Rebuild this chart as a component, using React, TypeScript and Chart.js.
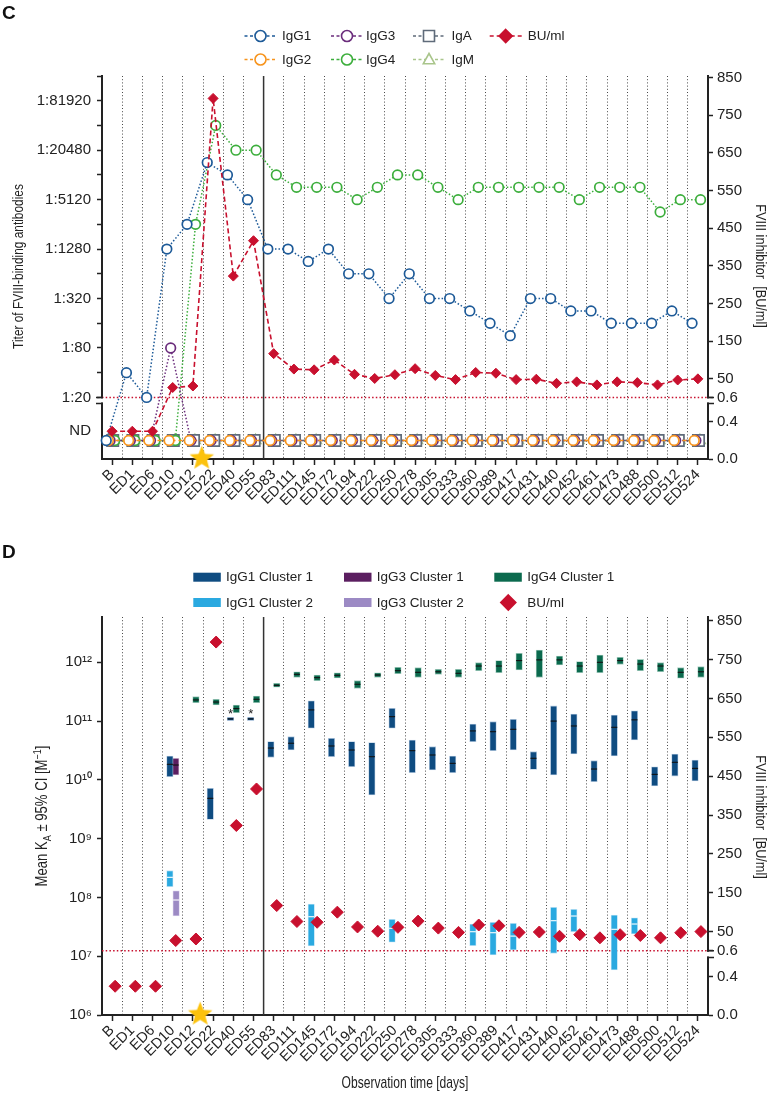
import React, { useEffect, useRef } from 'react';
import { Chart, registerables, Scale } from 'chart.js';

Chart.register(...registerables);

const SANS = '"Liberation Sans", Arial, Helvetica, sans-serif';
const NARROW_SCALE = 0.82; // horizontal compression emulating a condensed face
Chart.defaults.font.family = SANS;
Chart.defaults.color = '#222';

/* ======================= DATA ======================= */
const CATEGORIES = ['B', 'ED1', 'ED6', 'ED10', 'ED12', 'ED22', 'ED40', 'ED55', 'ED83', 'ED111', 'ED145', 'ED172', 'ED194', 'ED222', 'ED250', 'ED278', 'ED305', 'ED333', 'ED360', 'ED389', 'ED417', 'ED431', 'ED440', 'ED452', 'ED461', 'ED473', 'ED488', 'ED500', 'ED512', 'ED524'];

const ND = 'ND';

// Panel C: reciprocal titers of FVIII-binding antibodies ('ND' = not detected)
const IGG1_TITER = [ND, 40, 20, 1280, 2560, 14480, 10240, 5120, 1280, 1280, 905, 1280, 640, 640, 320, 640, 320, 320, 226, 160, 113, 320, 320, 226, 226, 160, 160, 160, 226, 160];
const IGG2_TITER = [ND, ND, ND, ND, ND, ND, ND, ND, ND, ND, ND, ND, ND, ND, ND, ND, ND, ND, ND, ND, ND, ND, ND, ND, ND, ND, ND, ND, ND, ND];
const IGG3_TITER = [ND, ND, ND, 80, ND, ND, ND, ND, ND, ND, ND, ND, ND, ND, ND, ND, ND, ND, ND, ND, ND, ND, ND, ND, ND, ND, ND, ND, ND, ND];
const IGG4_TITER = [ND, ND, ND, ND, 2560, 40960, 20480, 20480, 10240, 7240, 7240, 7240, 5120, 7240, 10240, 10240, 7240, 5120, 7240, 7240, 7240, 7240, 7240, 5120, 7240, 7240, 7240, 3620, 5120, 5120];
const IGA_TITER = [ND, ND, ND, ND, ND, ND, ND, ND, ND, ND, ND, ND, ND, ND, ND, ND, ND, ND, ND, ND, ND, ND, ND, ND, ND, ND, ND, ND, ND, ND];
const IGM_TITER = [ND, ND, ND, ND, ND, ND, ND, ND, ND, ND, ND, ND, ND, ND, ND, ND, ND, ND, ND, ND, ND, ND, ND, ND, ND, ND, ND, ND, ND, ND];

// FVIII inhibitor (BU/ml), shared by both panels
const BU_PER_ML = [0.3, 0.3, 0.3, 27, 31, 795, 323, 417, 117, 76, 74, 100, 62, 51, 61, 77, 59, 48, 67, 65, 48, 49, 38, 42, 34, 42, 40, 34, 47, 50];

// Panel D: mean K_A with 95% CI, as [low, high, mean]
const IGG1_CLUSTER1 = [
  null, null, null,
  [1.13e10, 2.55e10, 1.84e10],
  null,
  [2.13e9, 7.2e9, 4.86e9],
  [1.02e11, 1.16e11, 1.09e11],
  [1.02e11, 1.16e11, 1.09e11],
  [2.42e10, 4.47e10, 3.48e10],
  [3.22e10, 5.43e10, 4.2e10],
  [7.55e10, 2.22e11, 1.55e11],
  [2.48e10, 5.1e10, 3.77e10],
  [1.67e10, 4.47e10, 3.22e10],
  [5.53e9, 4.3e10, 2.48e10],
  [7.55e10, 1.65e11, 1.19e11],
  [1.32e10, 4.77e10, 3.14e10],
  [1.47e10, 3.67e10, 2.65e10],
  [1.32e10, 2.55e10, 1.91e10],
  [4.47e10, 8.93e10, 6.8e10],
  [3.14e10, 9.78e10, 6.6e10],
  [3.22e10, 1.07e11, 7.25e10],
  [1.51e10, 3.02e10, 2.33e10],
  [1.21e10, 1.81e11, 1.0e11],
  [2.76e10, 1.32e11, 8.26e10],
  [9.3e9, 2.12e10, 1.53e10],
  [2.55e10, 1.27e11, 7.84e10],
  [4.77e10, 1.5e11, 1.05e11],
  [7.87e9, 1.67e10, 1.24e10],
  [1.16e10, 2.76e10, 1.99e10],
  [9.57e9, 2.18e10, 1.57e10],
];
const IGG1_CLUSTER2 = [
  null, null, null,
  [1.52e8, 2.85e8, 2.2e8],
  null, null, null, null, null, null,
  [1.49e7, 7.7e7, 4.7e7],
  null, null, null,
  [1.73e7, 4.25e7, 2.99e7],
  null, null, null,
  [1.51e7, 3.53e7, 2.61e7],
  [1.05e7, 3.78e7, 2.51e7],
  [1.28e7, 3.63e7, 2.2e7],
  null,
  [1.12e7, 6.79e7, 4.02e7],
  [2.61e7, 6.28e7, 4.83e7],
  null,
  [5.83e6, 5.02e7, 2.87e7],
  [2.39e7, 4.52e7, 3.53e7],
  null, null, null,
];
const IGG3_CLUSTER1 = [null, null, null, [1.21e10, 2.33e10, 1.79e10], null, null, null, null, null, null, null, null, null, null, null, null, null, null, null, null, null, null, null, null, null, null, null, null, null, null];
const IGG3_CLUSTER2 = [null, null, null, [4.83e7, 1.3e8, 9.04e7], null, null, null, null, null, null, null, null, null, null, null, null, null, null, null, null, null, null, null, null, null, null, null, null, null, null];
const IGG4_CLUSTER1 = [
  null, null, null, null,
  [2.06e11, 2.6e11, 2.29e11],
  [1.88e11, 2.35e11, 2.11e11],
  [1.39e11, 1.88e11, 1.63e11],
  [2.06e11, 2.67e11, 2.35e11],
  [3.76e11, 4.4e11, 4.06e11],
  [5.56e11, 6.9e11, 6.25e11],
  [4.87e11, 6.08e11, 5.48e11],
  [5.41e11, 6.65e11, 6.01e11],
  [3.61e11, 4.87e11, 4.23e11],
  [5.56e11, 6.65e11, 6.08e11],
  [6.4e11, 8.2e11, 7.2e11],
  [5.56e11, 8.1e11, 6.76e11],
  [6.25e11, 7.6e11, 6.9e11],
  [5.56e11, 7.6e11, 6.5e11],
  [7.2e11, 9.86e11, 8.65e11],
  [6.65e11, 1.07e12, 8.65e11],
  [7.39e11, 1.42e12, 1.07e12],
  [5.56e11, 1.62e12, 1.1e12],
  [9.0e11, 1.28e12, 1.1e12],
  [6.65e11, 1.03e12, 8.65e11],
  [6.65e11, 1.33e12, 1.0e12],
  [9.25e11, 1.22e12, 1.07e12],
  [7.2e11, 1.12e12, 9.35e11],
  [6.9e11, 9.86e11, 8.65e11],
  [5.35e11, 8.1e11, 6.76e11],
  [5.56e11, 8.43e11, 6.9e11],
];
const ASTERISK_CATEGORIES = ['ED40', 'ED55'];

// Axis ticks
const TITER_TICKS = [20, 40, 80, 160, 320, 640, 1280, 2560, 5120, 10240, 20480, 40960, 81920, 163840];
const TITER_LABELED = [20, 80, 320, 1280, 5120, 20480, 81920];
const BU_TICKS = [0, 0.4, 0.6, 50, 150, 250, 350, 450, 550, 650, 750, 850];
const KA_TICKS = [1e6, 1e7, 1e8, 1e9, 1e10, 1e11, 1e12];
const EVENT_BETWEEN = ['ED12', 'ED22'];
const PHASE_BREAK_AFTER = 'ED55';

/* ======================= STYLES ======================= */
const COL = {
  igg1: '#1d5a98', igg2: '#f7941d', igg3: '#6b2d7c', igg4: '#3cae3c', iga: '#5f6b7a', igm: '#a9c58b', bu: '#c8102e',
  c1: '#0f4c81', c2: '#2aa9e0', g3c1: '#5b1e60', g3c2: '#9c8ac4', g4c1: '#0b6a4e', star: '#fcc20c', axis: '#222',
};
const ND_LEVEL = 0.2;
const ND_LABEL_LEVEL = 0.3;
const STAR_LEVEL = 0.02;

/* ======================= BROKEN AXIS SCALE ======================= */
class BrokenScale extends (Scale as any) {
  static id = 'broken';
  static defaults = {};
  determineDataLimits() {
    const o: any = (this as any).options;
    (this as any).min = o.lowerMin;
    (this as any).max = o.upperMax;
  }
  buildTicks() {
    const o: any = (this as any).options;
    return (o.tickValues || []).map((value: number) => ({ value }));
  }
  getLabelForValue(v: number) {
    return String(v);
  }
  sections() {
    const self: any = this;
    const o = self.options;
    const H = self.bottom - self.top;
    const lowerH = H * o.lowerFrac;
    const gapH = H * o.gapFrac;
    const lowerTop = self.bottom - lowerH;
    const upperBottom = lowerTop - gapH;
    return { H, lowerH, gapH, lowerTop, upperBottom };
  }
  getPixelForValue(value: number) {
    const self: any = this;
    const o = self.options;
    const s = self.sections();
    if (value < o.upperMin) {
      const t = (value - o.lowerMin) / (o.lowerMax - o.lowerMin);
      return self.bottom - t * s.lowerH;
    }
    const t = o.upperLog
      ? Math.log(value / o.upperMin) / Math.log(o.upperMax / o.upperMin)
      : (value - o.upperMin) / (o.upperMax - o.upperMin);
    return s.upperBottom - t * (s.upperBottom - self.top);
  }
  getValueForPixel(p: number) {
    const self: any = this;
    const o = self.options;
    const s = self.sections();
    if (p >= s.lowerTop) return o.lowerMin + ((self.bottom - p) / s.lowerH) * (o.lowerMax - o.lowerMin);
    const t = (s.upperBottom - p) / (s.upperBottom - self.top);
    return o.upperLog ? o.upperMin * Math.pow(o.upperMax / o.upperMin, t) : o.upperMin + t * (o.upperMax - o.upperMin);
  }
}
Chart.register(BrokenScale as any);

/* ======================= DECOR PLUGIN ======================= */
function drawMarker(ctx: any, kind: string, x: number, y: number, color: string, r: number) {
  ctx.save();
  ctx.setLineDash([]);
  ctx.lineWidth = 1.6;
  ctx.strokeStyle = color;
  ctx.fillStyle = '#fff';
  ctx.beginPath();
  if (kind === 'circle') ctx.arc(x, y, r, 0, Math.PI * 2);
  else if (kind === 'rect') ctx.rect(x - r, y - r, 2 * r, 2 * r);
  else if (kind === 'triangle') {
    ctx.moveTo(x, y - r);
    ctx.lineTo(x + r * 0.95, y + r * 0.7);
    ctx.lineTo(x - r * 0.95, y + r * 0.7);
    ctx.closePath();
  } else if (kind === 'diamond') {
    ctx.fillStyle = color;
    ctx.moveTo(x, y - r);
    ctx.lineTo(x + r, y);
    ctx.lineTo(x, y + r);
    ctx.lineTo(x - r, y);
    ctx.closePath();
  }
  ctx.fill();
  ctx.stroke();
  ctx.restore();
}

// Draws (optionally rotated, horizontally condensed) text with sub/superscript segments.
function drawRich(ctx: any, segs: any[], cx: number, cy: number, rot: number, size: number, hs: number, align: string) {
  ctx.save();
  ctx.translate(cx, cy);
  ctx.rotate(rot);
  ctx.scale(hs, 1);
  ctx.textBaseline = 'middle';
  ctx.textAlign = 'left';
  ctx.fillStyle = '#222';
  const fontOf = (s: any) => `${s.sub || s.sup ? Math.round(size * 0.68) : size}px ${SANS}`;
  let total = 0;
  for (const s of segs) {
    ctx.font = fontOf(s);
    total += ctx.measureText(s.t).width;
  }
  let x = align === 'left' ? 0 : -total / 2;
  for (const s of segs) {
    ctx.font = fontOf(s);
    const dy = s.sub ? size * 0.28 : s.sup ? -size * 0.32 : 0;
    ctx.fillText(s.t, x, dy);
    x += ctx.measureText(s.t).width;
  }
  ctx.restore();
}

const decorPlugin = {
  id: 'decor',
  beforeDatasetsDraw(chart: any, _a: any, opts: any) {
    const { ctx, chartArea: a } = chart;
    ctx.save();
    if (opts.threshold) {
      const y = chart.scales[opts.threshold.axis].getPixelForValue(opts.threshold.value);
      ctx.strokeStyle = COL.bu;
      ctx.lineWidth = 1.5;
      ctx.setLineDash([1.5, 2.2]);
      ctx.beginPath();
      ctx.moveTo(a.left, y);
      ctx.lineTo(a.right, y);
      ctx.stroke();
    }
    if (opts.separatorAfter) {
      const xs = chart.scales.x;
      const i = CATEGORIES.indexOf(opts.separatorAfter);
      const x = (xs.getPixelForValue(i) + xs.getPixelForValue(i + 1)) / 2;
      ctx.setLineDash([]);
      ctx.strokeStyle = '#333';
      ctx.lineWidth = 1.5;
      ctx.beginPath();
      ctx.moveTo(x, a.top);
      ctx.lineTo(x, a.bottom);
      ctx.stroke();
    }
    ctx.restore();
  },
  afterDraw(chart: any, _a: any, opts: any) {
    const { ctx } = chart;
    ctx.save();
    // axis breaks
    for (const b of opts.breaks || []) {
      const s = chart.scales[b.axis];
      const sec = s.sections();
      const ax = b.side < 0 ? s.right : s.left;
      ctx.fillStyle = '#fff';
      ctx.fillRect(ax - 2.5, sec.upperBottom + 1, 5, sec.lowerTop - sec.upperBottom - 2);
      ctx.strokeStyle = COL.axis;
      ctx.lineWidth = 1.5;
      ctx.setLineDash([]);
      ctx.beginPath();
      ctx.moveTo(ax + b.side * 6, sec.lowerTop);
      ctx.lineTo(ax - b.side * 1, sec.lowerTop);
      ctx.moveTo(ax + b.side * 6, sec.upperBottom);
      ctx.lineTo(ax - b.side * 1, sec.upperBottom);
      ctx.stroke();
    }
    // asterisks
    if (opts.asterisks) {
      const xs = chart.scales.xd;
      const ys = chart.scales.yL;
      ctx.fillStyle = '#222';
      ctx.font = `13px ${SANS}`;
      ctx.textAlign = 'center';
      ctx.textBaseline = 'middle';
      for (const c of opts.asterisks.categories) {
        const i = CATEGORIES.indexOf(c);
        const v = opts.asterisks.series[i];
        if (!v) continue;
        ctx.fillText('*', xs.getPixelForValue(i + opts.asterisks.offset), ys.getPixelForValue(v[1]) - 3);
      }
    }
    // panel letter
    if (opts.letter) {
      ctx.fillStyle = '#111';
      ctx.font = `bold 19px ${SANS}`;
      ctx.textAlign = 'left';
      ctx.textBaseline = 'alphabetic';
      ctx.fillText(opts.letter.text, opts.letter.x, opts.letter.y);
    }
    // legend
    for (const it of opts.legend || []) {
      ctx.save();
      if (it.kind === 'line') {
        ctx.strokeStyle = it.color;
        ctx.lineWidth = 1.5;
        ctx.setLineDash(it.dash);
        ctx.beginPath();
        ctx.moveTo(it.x - 16, it.y);
        ctx.lineTo(it.x + 16, it.y);
        ctx.stroke();
        drawMarker(ctx, it.marker, it.x, it.y, it.color, it.r);
      } else if (it.kind === 'box') {
        ctx.fillStyle = it.color;
        ctx.fillRect(it.x, it.y - 4.5, 27.5, 9);
      } else if (it.kind === 'diamond') {
        drawMarker(ctx, 'diamond', it.x, it.y, it.color, it.r);
      }
      ctx.restore();
      drawRich(ctx, [{ t: it.label }], it.tx, it.y + 0.5, 0, it.size, it.hs, 'left');
    }
    // titles
    for (const t of opts.titles || []) {
      drawRich(ctx, t.segs, t.x, t.y, t.rot, t.size, t.hs || NARROW_SCALE, 'center');
    }
    ctx.restore();
  },
};

/* ======================= HELPERS ======================= */
function makeStar(color: string) {
  const size = 27;
  const c = document.createElement('canvas');
  c.width = size;
  c.height = size;
  const g = c.getContext('2d') as CanvasRenderingContext2D;
  const R = 12.8;
  const r = R * 0.43;
  const cx = size / 2;
  const cy = size / 2 + 1.2;
  g.beginPath();
  for (let k = 0; k < 10; k++) {
    const ang = -Math.PI / 2 + (k * Math.PI) / 5;
    const rad = k % 2 === 0 ? R : r;
    const px = cx + Math.cos(ang) * rad;
    const py = cy + Math.sin(ang) * rad;
    if (k === 0) g.moveTo(px, py);
    else g.lineTo(px, py);
  }
  g.closePath();
  g.fillStyle = color;
  g.fill();
  return c;
}

const starX = () => (CATEGORIES.indexOf(EVENT_BETWEEN[0]) + CATEGORIES.indexOf(EVENT_BETWEEN[1])) / 2 - 0.06;
const SUP: any = { '0': '⁰', '1': '¹', '2': '²', '3': '³', '4': '⁴', '5': '⁵', '6': '⁶', '7': '⁷', '8': '⁸', '9': '⁹' };

function commonX(height: number) {
  return {
    xd: { type: 'linear', display: false, min: -0.5, max: CATEGORIES.length - 0.5, offset: false },
    xg: {
      type: 'category', position: 'bottom', offset: true,
      grid: {
        offset: true, drawTicks: false, lineWidth: 1,
        color: (c: any) => (c.index === CATEGORIES.indexOf(PHASE_BREAK_AFTER) + 1 ? 'rgba(0,0,0,0)' : '#4a4a4a'),
      },
      border: { display: false, dash: [1, 2.2] },
      ticks: { display: false },
      afterFit: (s: any) => { s.height = 0; },
    },
    x: {
      type: 'category', position: 'bottom', offset: true,
      grid: { offset: false, drawOnChartArea: false, drawTicks: true, tickLength: 6, tickColor: COL.axis, tickWidth: 1.5 },
      border: { display: true, color: COL.axis, width: 2 },
      ticks: { autoSkip: false, maxRotation: 45, minRotation: 45, font: { size: 14.5, family: SANS }, color: '#222', padding: 1 },
      afterFit: (s: any) => { s.height = height; },
    },
  };
}

function buScale(upperMax: number, lowerFrac: number, gapFrac: number) {
  return {
    type: 'broken', position: 'right',
    lowerMin: 0, lowerMax: 0.6, upperMin: 0.6, upperMax, upperLog: false, lowerFrac, gapFrac,
    tickValues: BU_TICKS,
    grid: { drawOnChartArea: false, tickLength: 5, tickWidth: 1.5, tickColor: COL.axis },
    border: { display: true, color: COL.axis, width: 2 },
    ticks: {
      autoSkip: false, padding: 4, font: { size: 15, family: SANS }, color: '#222',
      callback: (v: number) => (v < 1 ? v.toFixed(1) : String(v)),
    },
    afterFit: (s: any) => { s.width = 62; },
  };
}

/* ======================= PANEL C ======================= */
function titerDataset(label: string, values: any[], st: any) {
  return {
    type: 'line', label,
    data: values.map((v, i) => ({ x: i + st.offset, y: v === ND ? ND_LEVEL : v })),
    xAxisID: 'xd', yAxisID: 'yL',
    borderColor: st.color, borderWidth: 1.5, borderDash: st.dash,
    pointStyle: st.marker, pointRadius: st.radius, pointBorderWidth: 1.7,
    pointBorderColor: st.color, pointBackgroundColor: '#fff',
    tension: 0, clip: false, order: st.order,
  };
}

function configC() {
  const datasets: any[] = [
    titerDataset('IgG1', IGG1_TITER, { color: COL.igg1, dash: [1.5, 2], marker: 'circle', radius: 4.8, offset: -0.29, order: 1 }),
    titerDataset('IgG2', IGG2_TITER, { color: COL.igg2, dash: [4, 3], marker: 'circle', radius: 4.8, offset: -0.18, order: 2 }),
    titerDataset('IgG3', IGG3_TITER, { color: COL.igg3, dash: [1.5, 2], marker: 'circle', radius: 4.8, offset: -0.1, order: 3 }),
    titerDataset('IgG4', IGG4_TITER, { color: COL.igg4, dash: [1.5, 2], marker: 'circle', radius: 4.8, offset: 0.13, order: 4 }),
    titerDataset('IgA', IGA_TITER, { color: COL.iga, dash: [4, 3], marker: 'rect', radius: 8, offset: 0.03, order: 5 }),
    titerDataset('IgM', IGM_TITER, { color: COL.igm, dash: [4, 3], marker: 'triangle', radius: 6, offset: 0.1, order: 6 }),
    {
      type: 'line', label: 'BU/ml',
      data: BU_PER_ML.map((v, i) => ({ x: i, y: v })),
      xAxisID: 'xd', yAxisID: 'yR',
      borderColor: COL.bu, borderWidth: 1.6, borderDash: [5, 3],
      pointStyle: 'rectRot', pointRadius: 5, pointBorderWidth: 1, pointBorderColor: COL.bu, pointBackgroundColor: COL.bu,
      tension: 0, clip: false, order: 0,
    },
    {
      type: 'line', label: 'event', data: [{ x: starX(), y: STAR_LEVEL }], xAxisID: 'xd', yAxisID: 'yR',
      showLine: false, pointStyle: makeStar(COL.star), pointRadius: 10, clip: false, order: -2,
    },
  ];
  const L = { size: 13.5, hs: 1 };
  return {
    type: 'line',
    data: { labels: CATEGORIES, datasets },
    options: {
      animation: false, responsive: false, maintainAspectRatio: false, events: [],
      layout: { padding: { top: 76, left: 0, right: 0, bottom: 0 } },
      plugins: {
        legend: { display: false }, tooltip: { enabled: false },
        decor: {
          threshold: { axis: 'yR', value: 0.6 },
          separatorAfter: PHASE_BREAK_AFTER,
          breaks: [{ axis: 'yL', side: -1 }, { axis: 'yR', side: 1 }],
          letter: { text: 'C', x: 2, y: 18.5 },
          legend: [
            { kind: 'line', marker: 'circle', r: 5.5, color: COL.igg1, dash: [3, 2.5], x: 260.5, y: 36, tx: 282, label: 'IgG1', ...L },
            { kind: 'line', marker: 'circle', r: 5.5, color: COL.igg3, dash: [3, 2.5], x: 347, y: 36, tx: 366, label: 'IgG3', ...L },
            { kind: 'line', marker: 'rect', r: 5.5, color: COL.iga, dash: [3, 2.5], x: 429, y: 36, tx: 451.5, label: 'IgA', ...L },
            { kind: 'line', marker: 'diamond', r: 6.5, color: COL.bu, dash: [4, 3], x: 505.7, y: 36, tx: 527.7, label: 'BU/ml', ...L },
            { kind: 'line', marker: 'circle', r: 5.5, color: COL.igg2, dash: [3, 2.5], x: 260.5, y: 59.5, tx: 282, label: 'IgG2', ...L },
            { kind: 'line', marker: 'circle', r: 5.5, color: COL.igg4, dash: [3, 2.5], x: 347, y: 59.5, tx: 366, label: 'IgG4', ...L },
            { kind: 'line', marker: 'triangle', r: 6, color: COL.igm, dash: [3, 2.5], x: 429, y: 59.5, tx: 451.5, label: 'IgM', ...L },
          ],
          titles: [
            { segs: [{ t: 'Titer of FVIII-binding antibodies' }], x: 19, y: 266.5, rot: -Math.PI / 2, size: 14.5 },
            { segs: [{ t: 'FVIII inhibitor  [BU/ml]' }], x: 760, y: 266, rot: Math.PI / 2, size: 15.5 },
          ],
        },
      },
      scales: {
        ...commonX(46),
        yL: {
          type: 'broken', position: 'left',
          lowerMin: 0, lowerMax: 0.6, upperMin: 20, upperMax: 163840, upperLog: true, lowerFrac: 0.145, gapFrac: 0.0157,
          tickValues: [ND_LABEL_LEVEL, ...TITER_TICKS],
          grid: {
            drawOnChartArea: false, tickLength: 5, tickWidth: 1.5,
            tickColor: (c: any) => (c.tick && c.tick.value === ND_LABEL_LEVEL ? 'rgba(0,0,0,0)' : COL.axis),
          },
          border: { display: true, color: COL.axis, width: 2 },
          ticks: {
            autoSkip: false, padding: 6, font: { size: 15, family: SANS }, color: '#222',
            callback: (v: number) => (v === ND_LABEL_LEVEL ? 'ND' : TITER_LABELED.includes(v) ? `1:${v}` : ''),
          },
          afterFit: (s: any) => { s.width = 102; },
        },
        yR: buScale(854.5, 0.145, 0.0157),
      },
    },
    plugins: [decorPlugin],
  };
}

/* ======================= PANEL D ======================= */
function rangeDatasets(label: string, series: any[], st: any) {
  const idx = series.map((v, i) => (v ? i : -1)).filter((i) => i >= 0);
  return [
    {
      type: 'bar', label,
      data: idx.map((i) => ({ x: i + st.offset, y: [series[i][0], series[i][1]] })),
      xAxisID: 'xd', yAxisID: 'yL',
      backgroundColor: st.color, borderColor: st.edge, borderWidth: 0.8, borderSkipped: false,
      barThickness: 6.5, grouped: false, clip: false, order: 3,
    },
    {
      type: 'line', label: label + ' mean',
      data: idx.map((i) => ({ x: i + st.offset, y: series[i][2] })),
      xAxisID: 'xd', yAxisID: 'yL', showLine: false,
      pointStyle: 'line', pointRadius: 3, pointBorderWidth: 1.1, pointBorderColor: st.mean, clip: false, order: 2,
    },
  ];
}

function configD() {
  const datasets: any[] = [
    ...rangeDatasets('IgG1 Cluster 1', IGG1_CLUSTER1, { color: COL.c1, edge: '#b9cde2', mean: '#111', offset: -0.14 }),
    ...rangeDatasets('IgG1 Cluster 2', IGG1_CLUSTER2, { color: COL.c2, edge: '#c6e6f6', mean: '#fff', offset: -0.14 }),
    ...rangeDatasets('IgG3 Cluster 1', IGG3_CLUSTER1, { color: COL.g3c1, edge: '#d2bcd5', mean: '#111', offset: 0.15 }),
    ...rangeDatasets('IgG3 Cluster 2', IGG3_CLUSTER2, { color: COL.g3c2, edge: '#dcd4ee', mean: '#fff', offset: 0.17 }),
    ...rangeDatasets('IgG4 Cluster 1', IGG4_CLUSTER1, { color: COL.g4c1, edge: '#a9d0c3', mean: '#111', offset: 0.15 }),
    {
      type: 'line', label: 'BU/ml',
      data: BU_PER_ML.map((v, i) => ({ x: i + 0.15, y: v })),
      xAxisID: 'xd', yAxisID: 'yR', showLine: false,
      pointStyle: 'rectRot', pointRadius: 6, pointBorderWidth: 1, pointBorderColor: COL.bu, pointBackgroundColor: COL.bu,
      clip: false, order: 0,
    },
    {
      type: 'line', label: 'event', data: [{ x: starX() - 0.08, y: STAR_LEVEL }], xAxisID: 'xd', yAxisID: 'yR',
      showLine: false, pointStyle: makeStar(COL.star), pointRadius: 10, clip: false, order: -2,
    },
  ];
  const L = { size: 13.5, hs: 1 };
  return {
    type: 'line',
    data: { labels: CATEGORIES, datasets },
    options: {
      animation: false, responsive: false, maintainAspectRatio: false, events: [],
      layout: { padding: { top: 112, left: 0, right: 0, bottom: 0 } },
      plugins: {
        legend: { display: false }, tooltip: { enabled: false },
        decor: {
          threshold: { axis: 'yR', value: 0.6 },
          separatorAfter: PHASE_BREAK_AFTER,
          breaks: [{ axis: 'yR', side: 1 }],
          asterisks: { categories: ASTERISK_CATEGORIES, series: IGG1_CLUSTER1, offset: -0.14 },
          letter: { text: 'D', x: 2, y: 53 },
          legend: [
            { kind: 'box', color: COL.c1, x: 193.3, y: 72.2, tx: 226, label: 'IgG1 Cluster 1', ...L },
            { kind: 'box', color: COL.g3c1, x: 344, y: 72.2, tx: 376.7, label: 'IgG3 Cluster 1', ...L },
            { kind: 'box', color: COL.g4c1, x: 494.3, y: 72.2, tx: 527.3, label: 'IgG4 Cluster 1', ...L },
            { kind: 'box', color: COL.c2, x: 193.3, y: 97.5, tx: 226, label: 'IgG1 Cluster 2', ...L },
            { kind: 'box', color: COL.g3c2, x: 344, y: 97.5, tx: 376.7, label: 'IgG3 Cluster 2', ...L },
            { kind: 'diamond', color: COL.bu, r: 7.5, x: 508.3, y: 97.5, tx: 527.3, label: 'BU/ml', ...L },
          ],
          titles: [
            { segs: [{ t: 'Mean K' }, { t: 'A', sub: true }, { t: ' ± 95% CI [M' }, { t: '−1', sup: true }, { t: ']' }], x: 43, y: 311, rot: -Math.PI / 2, size: 16 },
            { segs: [{ t: 'FVIII inhibitor  [BU/ml]' }], x: 760, y: 312, rot: Math.PI / 2, size: 15.5 },
            { segs: [{ t: 'Observation time [days]' }], x: 405, y: 578, rot: 0, size: 17, hs: 0.71 },
          ],
        },
      },
      scales: {
        ...commonX(78),
        yL: {
          type: 'logarithmic', position: 'left', min: 1e6, max: 5.9e12,
          afterBuildTicks: (s: any) => { s.ticks = KA_TICKS.map((value) => ({ value })); },
          grid: { drawOnChartArea: false, tickLength: 5, tickWidth: 1.5, tickColor: COL.axis },
          border: { display: true, color: COL.axis, width: 2 },
          ticks: {
            autoSkip: false, padding: 5, font: { size: 15, family: SANS }, color: '#222',
            callback: (v: number) => '10' + String(Math.round(Math.log10(v))).split('').map((d) => SUP[d]).join(''),
          },
          afterFit: (s: any) => { s.width = 102; },
        },
        yR: buScale(859.5, 0.1445, 0.0168),
      },
    },
    plugins: [decorPlugin],
  };
}

/* ======================= REACT ======================= */
function ChartCanvas({ make, top, height }: { make: () => any; top: number; height: number }) {
  const ref = useRef<HTMLCanvasElement | null>(null);
  useEffect(() => {
    const chart = new Chart(ref.current as HTMLCanvasElement, make());
    return () => chart.destroy();
  }, []);
  return (
    <canvas
      ref={ref}
      width={770}
      height={height}
      style={{ position: 'absolute', left: 0, top, width: 770, height, display: 'block' }}
    />
  );
}

export default function App() {
  return (
    <div style={{ position: 'absolute', left: 0, top: 0, width: 770, height: 1093, background: '#fff', overflow: 'hidden' }}>
      <ChartCanvas make={configC} top={0} height={505} />
      <ChartCanvas make={configD} top={505} height={588} />
    </div>
  );
}
